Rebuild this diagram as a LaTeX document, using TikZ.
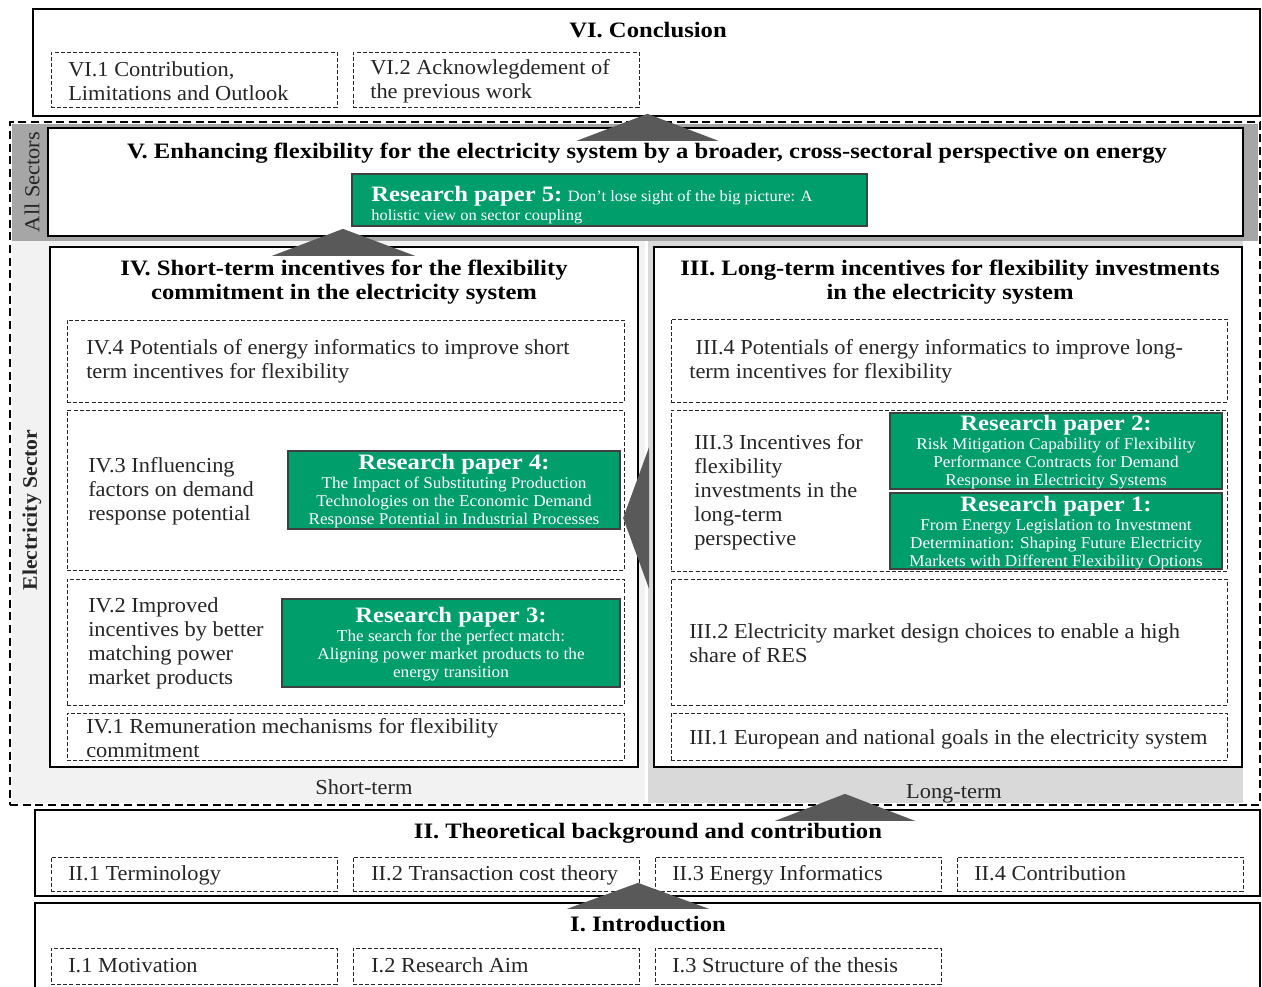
\documentclass[tikz,border=0pt]{standalone}
\usepackage{fontspec}
\setmainfont{Liberation Serif}[FakeStretch=1.05]
\newfontfamily\widefont{Liberation Serif}[FakeStretch=1.12]
\usetikzlibrary{fit,calc}
\definecolor{rpgreen}{RGB}{0,158,107}
\definecolor{arrowgray}{RGB}{89,89,89}
\definecolor{allsec}{RGB}{166,166,166}
\definecolor{shortbg}{RGB}{242,242,242}
\definecolor{longbg}{RGB}{217,217,217}
\definecolor{itemtext}{RGB}{38,38,38}
\newcommand{\rph}[1]{{\widefont\fontsize{16.5}{18}\selectfont\bfseries #1}}
\begin{document}
\begin{tikzpicture}[x=0.75pt,y=-0.75pt,
  mainbox/.style={draw=black, line width=1.7pt, inner sep=0pt, fill=white},
  subbox/.style={draw=black!85, dash pattern=on 3pt off 1.6pt, line width=0.6pt, inner sep=0pt},
  rpbox/.style={draw=black!75, line width=0.8pt, fill=rpgreen, inner sep=0pt},
  bandbox/.style={inner sep=0pt},
  titletext/.style={font=\widefont\fontsize{16.5}{18}\selectfont\bfseries, align=center, inner sep=0pt},
  itemtext/.style={font=\fontsize{16}{18}\selectfont, align=left, anchor=west, inner sep=0pt, text=itemtext},
  oneline/.style={itemtext, anchor=base west},
  rptext/.style={text=white, align=center, inner sep=0pt, font=\fontsize{12.3}{13.5}\selectfont},
  sidetext/.style={rotate=90, inner sep=0pt, font=\fontsize{16}{18}\selectfont, text=itemtext},
  tri/.style={fill=arrowgray},
]
\useasboundingbox (0,0) rectangle (1262,987);
\fill[white] (0,0) rectangle (1262,987);

% ---------- backgrounds ----------
\node[bandbox, fill=allsec, fit={(12,124) (1258,241)}] (allband) {};
\node[bandbox, fill=shortbg, fit={(12,241) (645,803)}] (shortband) {};
\node[bandbox, fill=longbg, fit={(648,241) (1243,803)}] (longband) {};

% ---------- VI Conclusion ----------
\node[mainbox, fit={(33,9) (1260,116)}] (VI) {};
\node[titletext] (VIt) at (648,30) {VI. Conclusion};
\node[subbox, fit={(51,52) (337,107)}] (VI1) {};
\node[subbox, fit={(353,52) (639,107)}] (VI2) {};
\node[itemtext] (VI1t) at (68,81) {VI.1 Contribution,\\Limitations and Outlook};
\node[itemtext] (VI2t) at (370,81) {VI.2 Acknowlegdement of\\the previous work};

% ---------- outer dashed frame ----------
\node[draw=black, line width=1.5pt, dash pattern=on 6pt off 3.5pt, inner sep=0pt, fit={(10,122) (1260,805)}] (frame) {};

% ---------- V ----------
\node[mainbox, fit={(48,128) (1243,236)}] (V) {};
\node[titletext] (Vt) at (647,153) {V. Enhancing flexibility for the electricity system by a broader, cross-sectoral perspective on energy};
\node[rpbox, fit={(352,174) (867,226)}] (RP5) {};
\node[inner sep=0pt, anchor=west, align=left, text=white, font=\fontsize{11.8}{14}\selectfont] (RP5t) at (371,205)
  {\rph{Research paper 5:} Don’t lose sight of the big picture: A\\holistic view on sector coupling};
\node[sidetext] (allsect) at (32,182) {All Sectors};
\node[sidetext, font=\fontsize{15.5}{18}\selectfont\bfseries] (elsect) at (32,510) {Electricity Sector};

% ---------- IV ----------
\node[mainbox, fit={(50,247) (638,767)}] (IV) {};
\node[titletext] (IVt) at (344,282) {IV. Short-term incentives for the flexibility\\commitment in the electricity system};
\node[subbox, fit={(67,320) (624,402)}] (IV4) {};
\node[itemtext] (IV4t) at (86,361) {IV.4 Potentials of energy informatics to improve short\\term incentives for flexibility};
\node[subbox, fit={(67,410) (624,570)}] (IV3) {};
\node[itemtext] (IV3t) at (88,491) {IV.3 Influencing\\factors on demand\\response potential};
\node[rpbox, fit={(288,451) (620,529)}] (RP4) {};
\node[rptext] (RP4t) at (454,491) {\rph{Research paper 4:}\\[1pt]The Impact of Substituting Production\\Technologies on the Economic Demand\\Response Potential in Industrial Processes};
\node[subbox, fit={(67,579) (624,705)}] (IV2) {};
\node[itemtext] (IV2t) at (88,643) {IV.2 Improved\\incentives by better\\matching power\\market products};
\node[rpbox, fit={(282,599) (620,687)}] (RP3) {};
\node[rptext] (RP3t) at (451,644) {\rph{Research paper 3:}\\[1pt]The search for the perfect match:\\Aligning power market products to the\\energy transition};
\node[subbox, fit={(67,713) (624,760)}] (IV1) {};
\node[itemtext] (IV1t) at (86,738) {IV.1 Remuneration mechanisms for flexibility\\commitment};

% ---------- III ----------
\node[mainbox, fit={(654,247) (1242,767)}] (III) {};
\node[titletext] (IIIt) at (950,282) {III. Long-term incentives for flexibility investments\\in the electricity system};
\node[subbox, fit={(671,319) (1227,402)}] (III4) {};
\node[itemtext] (III4t) at (689,361) {\hspace*{0.3em}III.4 Potentials of energy informatics to improve long-\\term incentives for flexibility};
\node[subbox, fit={(671,410) (1227,571)}] (III3) {};
\node[itemtext] (III3t) at (694,492) {III.3 Incentives for\\flexibility\\investments in the\\long-term\\perspective};
\node[rpbox, fit={(890,413) (1222,489)}] (RP2) {};
\node[rptext] (RP2t) at (1056,452) {\rph{Research paper 2:}\\[1pt]Risk Mitigation Capability of Flexibility\\Performance Contracts for Demand\\Response in Electricity Systems};
\node[rpbox, fit={(890,493) (1222,569)}] (RP1) {};
\node[rptext] (RP1t) at (1056,533) {\rph{Research paper 1:}\\[1pt]From Energy Legislation to Investment\\Determination: Shaping Future Electricity\\Markets with Different Flexibility Options};
\node[subbox, fit={(671,579) (1227,705)}] (III2) {};
\node[itemtext] (III2t) at (689,643) {III.2 Electricity market design choices to enable a high\\share of RES};
\node[subbox, fit={(671,713) (1227,760)}] (III1) {};
\node[oneline] (III1t) at (689,744) {III.1 European and national goals in the electricity system};

\node[inner sep=0pt, anchor=base, font=\fontsize{16}{18}\selectfont, text=itemtext] (short) at (364,794) {Short-term};
\node[inner sep=0pt, anchor=base, font=\fontsize{16}{18}\selectfont, text=itemtext] (long) at (954,798) {Long-term};

% ---------- II ----------
\node[mainbox, fit={(35,810) (1260,896)}] (II) {};
\node[titletext] (IIt) at (648,833) {II. Theoretical background and contribution};
\node[subbox, fit={(51,857) (337,891)}] (II1) {};
\node[subbox, fit={(353,857) (639,891)}] (II2) {};
\node[subbox, fit={(655,857) (941,891)}] (II3) {};
\node[subbox, fit={(957,857) (1243,891)}] (II4) {};
\node[oneline] (II1t) at (68,880) {II.1 Terminology};
\node[oneline] (II2t) at (371,880) {II.2 Transaction cost theory};
\node[oneline] (II3t) at (672,880) {II.3 Energy Informatics};
\node[oneline] (II4t) at (974,880) {II.4 Contribution};

% ---------- I ----------
\node[mainbox, fit={(35,903) (1260,992)}] (I) {};
\node[titletext] (It) at (648,924) {I. Introduction};
\node[subbox, fit={(51,948) (337,984)}] (I1) {};
\node[subbox, fit={(353,948) (639,984)}] (I2) {};
\node[subbox, fit={(655,948) (941,984)}] (I3) {};
\node[oneline] (I1t) at (68,972) {I.1 Motivation};
\node[oneline] (I2t) at (371,972) {I.2 Research Aim};
\node[oneline] (I3t) at (672,972) {I.3 Structure of the thesis};

% ---------- arrows (triangles) ----------
\fill[tri] ($(V.north)+(2,-13)$) -- ($(V.north)+(-69,14)$) -- ($(V.north)+(73,14)$) -- cycle;
\fill[tri] ($(IV.north)+(-1,-17)$) -- ($(IV.north)+(-72,10)$) -- ($(IV.north)+(71,10)$) -- cycle;
\fill[tri] ($(IV.east)+(-16,11)$) -- ($(IV.east)+(10,-60)$) -- ($(IV.east)+(10,82)$) -- cycle;
\fill[tri] ($(II.north)+(197.5,-15)$) -- ($(II.north)+(127.5,12)$) -- ($(II.north)+(267.5,12)$) -- cycle;
\fill[tri] ($(I.north)+(-9.5,-19)$) -- ($(I.north)+(-80.5,7)$) -- ($(I.north)+(61.5,7)$) -- cycle;
\end{tikzpicture}
\end{document}
